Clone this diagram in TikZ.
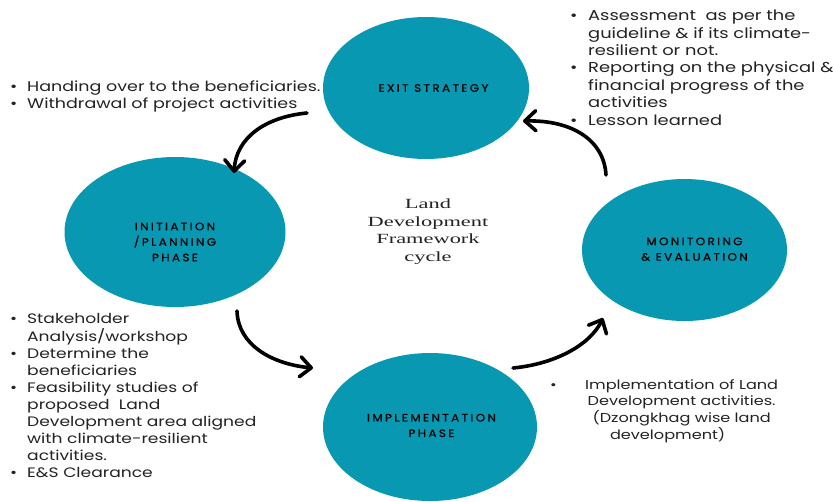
\documentclass[tikz,border=0pt]{standalone}
\usepackage{fontspec}
\setmainfont[FakeStretch=1.25]{Poppins}
\newfontfamily\serifwide[FakeStretch=1.6]{Liberation Serif}
\newfontfamily\capsf[LetterSpace=22,FakeStretch=1.12,FakeBold=0.6]{Poppins}
\usetikzlibrary{arrows.meta,shapes.geometric}
\definecolor{tealfill}{RGB}{8,152,178}
\definecolor{txtgray}{RGB}{35,35,35}
\newcommand\bitem[1]{\makebox[#1][l]{\textbullet}}
\begin{document}
\begin{tikzpicture}[x=1pt,y=-1pt,
  phase/.style={ellipse, fill=tealfill, inner sep=0pt},
  phaselabel/.style={font=\capsf\fontsize{10.7}{15.5}\selectfont, text=black, align=center, inner sep=0pt},
  flow/.style={line width=3.6pt, line cap=round, -{Straight Barb[length=11pt,width=20pt,line cap=round,line join=round]}},
  listtext/.style={inner sep=0pt, anchor=base west, text=txtgray, align=left}
]
\useasboundingbox[fill=white] (0,0) rectangle (833,501);

% phases
\node[phase, minimum width=206pt, minimum height=142pt,
  label={[phaselabel, xshift=7.5pt, yshift=0pt]center:EXIT STRATEGY}] (exit) at (426,88) {};
\node[phase, minimum width=221pt, minimum height=150pt,
  label={[phaselabel, xshift=0pt, yshift=-10pt]center:INITIATION\\/PLANNING\\PHASE}] (init) at (175,232) {};
\node[phase, minimum width=214pt, minimum height=148pt,
  label={[phaselabel, xshift=1.5pt, yshift=1.5pt]center:IMPLEMENTATION\\PHASE}] (impl) at (430,427) {};
\node[phase, minimum width=205pt, minimum height=142pt,
  label={[phaselabel, xshift=10pt, yshift=0.8pt]center:MONITORING\\\& EVALUATION}] (mon) at (684.5,250) {};

% centre title
\node[inner sep=0pt, anchor=base, text=txtgray] (title) at (428,208.3)
  {\serifwide\fontsize{14}{17.8}\selectfont\begin{tabular}[t]{@{}c@{}}Land\\Development\\Framework\\cycle\end{tabular}};

% lists
\node[listtext] (exitlist) at (10,91.7)
  {\fontsize{14}{16.6}\selectfont\begin{tabular}[t]{@{}l@{}}
  \bitem{17pt}Handing over to the beneficiaries.\\
  \bitem{17pt}Withdrawal of project activities
  \end{tabular}};
\node[listtext] (monlist) at (570,20.7)
  {\fontsize{14.3}{17.4}\selectfont\begin{tabular}[t]{@{}l@{}}
  \bitem{18pt}Assessment\ \ as per the\\
  \hspace*{18pt}guideline \& if its climate-\\
  \hspace*{18pt}resilient or not.\\
  \bitem{18pt}Reporting on the physical \&\\
  \hspace*{18pt}financial progress of the\\
  \hspace*{18pt}activities\\
  \bitem{18pt}Lesson learned
  \end{tabular}};
\node[listtext] (initlist) at (10,323)
  {\fontsize{13.7}{17.1}\selectfont\begin{tabular}[t]{@{}l@{}}
  \bitem{17pt}Stakeholder\\
  \hspace*{17pt}Analysis/workshop\\
  \bitem{17pt}Determine the\\
  \hspace*{17pt}beneficiaries\\
  \bitem{17pt}Feasibility studies of\\
  \hspace*{17pt}proposed\ \ Land\\
  \hspace*{17pt}Development area aligned\\
  \hspace*{17pt}with climate-resilient\\
  \hspace*{17pt}activities.\\
  \bitem{17pt}E\&S Clearance
  \end{tabular}};
\node[listtext] (impllist) at (550,389)
  {\fontsize{12.9}{16.2}\selectfont\bitem{35pt}\begin{tabular}[t]{@{}c@{}}
  Implementation of Land\\
  Development activities.\\
  (Dzongkhag wise land\\
  development)\hspace*{28pt}
  \end{tabular}};

% connectors
\coordinate (a1s) at (307,113); \coordinate (a1e) at (234,173);
\coordinate (a2s) at (237,311); \coordinate (a2e) at (313,368);
\coordinate (a3s) at (513,368); \coordinate (a3e) at (603,318);
\coordinate (a4s) at (606,175); \coordinate (a4e) at (523,121);
\draw[flow] (a1s) .. controls (265,117) and (236,138) .. (a1e);
\draw[flow] (a2s) .. controls (238,345) and (272,364) .. (a2e);
\draw[flow] (a3s) .. controls (555,364) and (590,345) .. (a3e);
\draw[flow] (a4s) .. controls (604,140) and (572,120) .. (a4e);
\end{tikzpicture}
\end{document}
